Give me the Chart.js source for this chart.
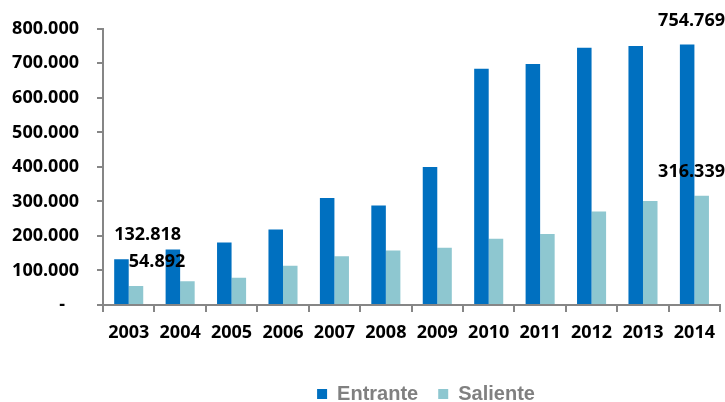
<!DOCTYPE html>
<html><head><meta charset="utf-8">
<script src="https://cdn.jsdelivr.net/npm/chart.js@4.4.0/dist/chart.umd.min.js"></script>
<style>html,body{margin:0;padding:0;background:#fff;overflow:hidden}#wrap{width:725px;height:402px;position:relative}</style>
</head><body><div id="wrap"><canvas id="c" width="725" height="402"></canvas></div>
<script>
const categories = ['2003','2004','2005','2006','2007','2008','2009','2010','2011','2012','2013','2014'];
const entrante = [132818,160700,181000,219000,310000,288000,400000,684000,698000,745000,750000,754769];
const saliente = [54892,69000,79000,113500,141000,158000,166000,191600,206000,271000,301000,316339];
const yTicks = [0,100000,200000,300000,400000,500000,600000,700000,800000];
const seriesNames = ['Entrante','Saliente'];
// [dataset index, category index] of values that carry a data label
const labeledPoints = [[0,0],[1,0],[0,11],[1,11]];

function fmt(v){
  if (v === 0) return '-   ';
  return String(v).replace(/\B(?=(\d{3})+(?!\d))/g,'.');
}
const tickFont = {family:'"Open Sans", "Liberation Sans", Arial', size:18, weight:'bold'};
const axisGray = '#868686';

const dataLabelPlugin = {
  id:'dataLabels',
  afterDatasetsDraw(chart){
    const ctx = chart.ctx;
    ctx.save();
    ctx.font = 'bold 18px "Open Sans", "Liberation Sans", Arial';
    ctx.fillStyle = '#000';
    ctx.textBaseline = 'middle';
    ctx.textAlign = 'left';
    labeledPoints.forEach(([d,i])=>{
      const bar = chart.getDatasetMeta(d).data[i];
      const txt = fmt(chart.data.datasets[d].data[i]);
      const w = ctx.measureText(txt).width;
      let x = bar.x - bar.width/2;
      if (x + w > chart.width) x = chart.width - w;
      ctx.fillText(txt, x, bar.y - 24);
    });
    ctx.restore();
  }
};
const legendPlace = {
  id:'legendPlace',
  afterLayout(chart){
    const lg = chart.legend;
    const h = lg.bottom - lg.top;
    lg.top = 364; lg.bottom = 364 + h;
    const dx = 426 - (lg.left + lg.right)/2;
    lg.left += dx; lg.right += dx;
  }
};

new Chart(document.getElementById('c'), {
  type:'bar',
  data:{
    labels: categories,
    datasets:[
      {label:seriesNames[0], data:entrante, backgroundColor:'#0070C0', borderWidth:0, categoryPercentage:0.565, barPercentage:1},
      {label:seriesNames[1], data:saliente, backgroundColor:'#8EC7D0', borderWidth:0, categoryPercentage:0.565, barPercentage:1}
    ]
  },
  options:{
    responsive:false,
    animation:false,
    layout:{padding:{top:27, bottom:7, left:0, right:0}},
    plugins:{
      tooltip:{enabled:false},
      legend:{
        position:'bottom',
        labels:{boxWidth:10, boxHeight:10, padding:20, color:'#808080',
          font:{family:'"Liberation Sans", Arial', size:20, weight:'bold'}}
      }
    },
    scales:{
      x:{
        grid:{drawOnChartArea:false, tickLength:7, color:axisGray, lineWidth:2, offset:true},
        border:{color:axisGray, width:2},
        ticks:{color:'#000', font:tickFont, padding:10, maxRotation:0, autoSkip:false},
        afterFit(s){ s.height = 40; }
      },
      y:{
        min:0, max:800000,
        grid:{drawOnChartArea:false, tickLength:6, color:axisGray, lineWidth:2},
        border:{color:axisGray, width:2},
        ticks:{color:'#000', font:tickFont, padding:18, callback:(v)=>fmt(v)},
        afterBuildTicks(s){ s.ticks = yTicks.map(v=>({value:v})); },
        afterFit(s){ s.width = 103; }
      }
    }
  },
  plugins:[dataLabelPlugin, legendPlace]
});
</script></body></html>
